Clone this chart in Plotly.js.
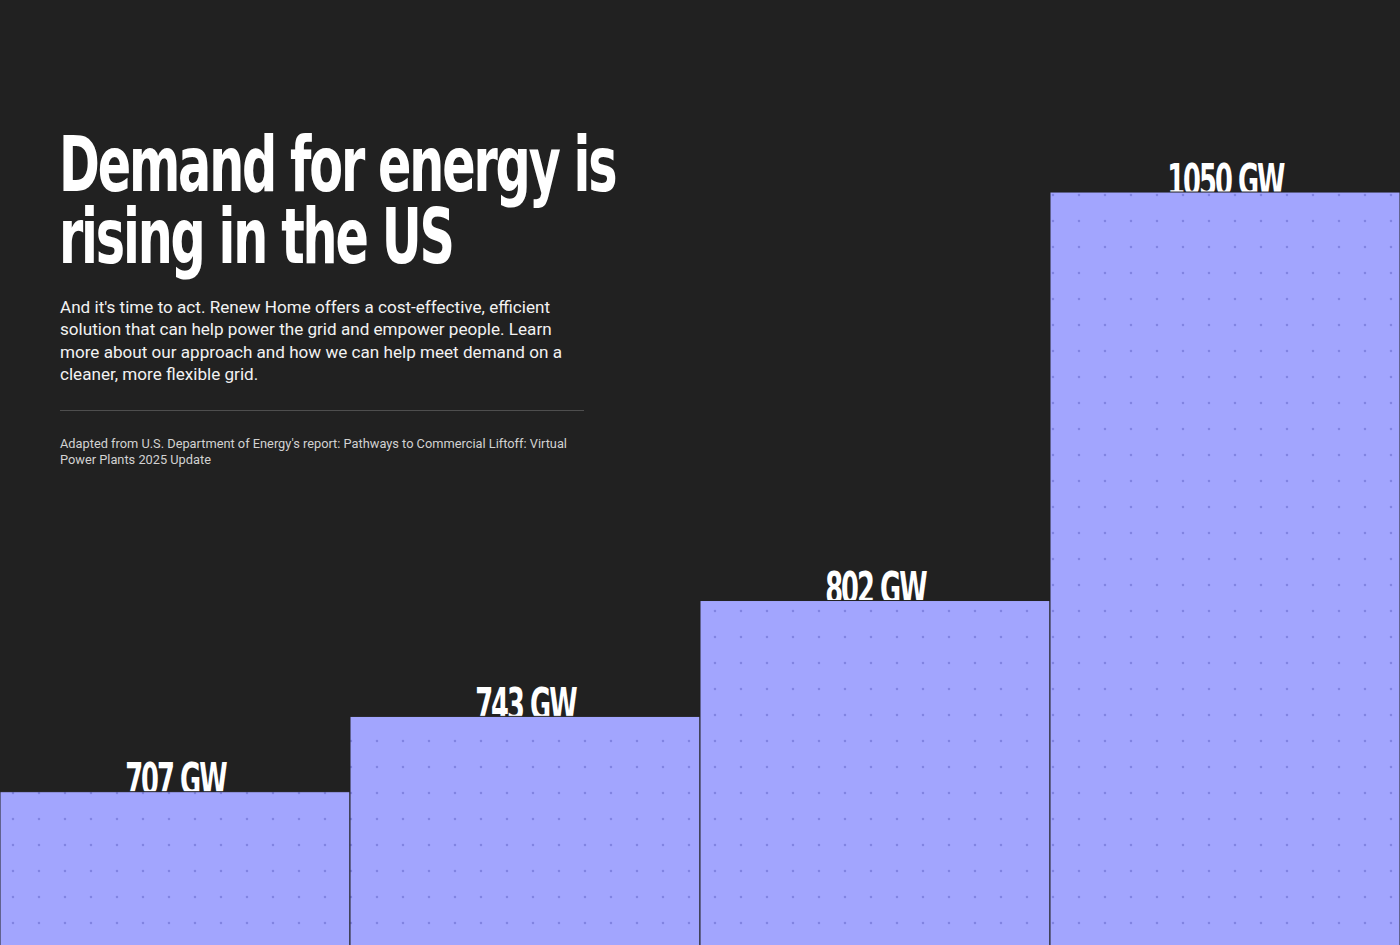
<!DOCTYPE html>
<html>
<head>
<meta charset="utf-8">
<script src="https://cdn.plot.ly/plotly-3.0.1.min.js"></script>
<style>
  html, body { margin: 0; padding: 0; background: #212121; overflow: hidden; }
  #chart { width: 1400px; height: 945px; }
  #chart .textpoint text {
    letter-spacing: -3px;
    transform-box: fill-box; transform-origin: center; transform: scaleX(0.65);
  }
  #chart .annotation[data-index="0"] text,
  #chart .annotation[data-index="1"] text {
    letter-spacing: -3px;
    transform-box: fill-box; transform-origin: left center; transform: scaleX(0.72);
  }
</style>
</head>
<body>
<div id="chart"></div>
<script>
// ---- data ----
const categories = ['A', 'B', 'C', 'D'];
const demandGW = [707, 743, 802, 1050];
const valueLabels = ['707 GW', '743 GW', '802 GW', '1050 GW'];

const titleLines = ['Demand for energy is', 'rising in the US'];
const bodyLines = [
  "And it's time to act. Renew Home offers a cost-effective, efficient",
  "solution that can help power the grid and empower people. Learn",
  "more about our approach and how we can help meet demand on a",
  "cleaner, more flexible grid."
];
const sourceLines = [
  "Adapted from U.S. Department of Energy's report: Pathways to Commercial Liftoff: Virtual",
  "Power Plants 2025 Update"
];

// ---- styling / layout ----
const W = 1400, H = 945;
const BG = '#212121';
const BAR = '#a2a5fe';
const DOT = '#8184e2';
const CONDENSED = '"DejaVu Sans Condensed", "DejaVu Sans", sans-serif';
const BODY = 'Roboto, "Noto Sans", sans-serif';

const py = p => 1 - p / H;
const px = p => p / W;

const barRange = [2.8055, 3.0762];
const textShift = 0.00215;

const annotations = [];
const titleTops = [117.5, 190.5];
titleLines.forEach((t, i) => annotations.push({
  text: t, xref: 'paper', yref: 'paper', x: px(57), y: py(titleTops[i]),
  xanchor: 'left', yanchor: 'top', align: 'left', showarrow: false,
  font: { family: CONDENSED, size: 76, color: '#ffffff', weight: 700 }
}));
const bodyTops = [294.5, 317.0, 339.5, 362.0];
bodyLines.forEach((t, i) => annotations.push({
  text: t, xref: 'paper', yref: 'paper', x: px(58), y: py(bodyTops[i]),
  xanchor: 'left', yanchor: 'top', align: 'left', showarrow: false,
  font: { family: BODY, size: 17.1, color: '#f2f2f2' }
}));
const sourceTops = [434.2, 450.2];
sourceLines.forEach((t, i) => annotations.push({
  text: t, xref: 'paper', yref: 'paper', x: px(58), y: py(sourceTops[i]),
  xanchor: 'left', yanchor: 'top', align: 'left', showarrow: false,
  font: { family: BODY, size: 12.8, color: '#d2d2d2' }
}));

const traces = [
  {
    type: 'scatter', mode: 'text',
    x: categories, y: demandGW, text: valueLabels,
    textposition: 'middle center',
    textfont: { family: CONDENSED, size: 44, color: '#ffffff', weight: 700 },
    xaxis: 'x', yaxis: 'y', cliponaxis: false, hoverinfo: 'skip', showlegend: false
  },
  {
    type: 'bar',
    x: categories, y: demandGW,
    xaxis: 'x', yaxis: 'y2',
    marker: {
      color: BAR,
      line: { color: BG, width: 1 },
      pattern: { shape: '.', size: 26, solidity: 0.0075, fgcolor: DOT, bgcolor: BAR, fgopacity: 1 }
    },
    hoverinfo: 'skip', showlegend: false
  }
];

const layout = {
  width: W, height: H,
  margin: { l: 0, r: 0, t: 0, b: 0, pad: 0 },
  paper_bgcolor: BG, plot_bgcolor: BG,
  showlegend: false,
  bargap: 0,
  xaxis: { type: 'category', range: [-0.5, 3.5], visible: false, fixedrange: true },
  yaxis: { type: 'log', range: [barRange[0] - textShift, barRange[1] - textShift], visible: false, fixedrange: true },
  yaxis2: { type: 'log', range: barRange, overlaying: 'y', visible: false, fixedrange: true },
  annotations: annotations,
  shapes: [{
    type: 'line', xref: 'paper', yref: 'paper',
    x0: px(60), x1: px(584), y0: py(410.5), y1: py(410.5),
    line: { color: '#4e4e4e', width: 1 }
  }],
  hovermode: false
};

Plotly.newPlot('chart', traces, layout, { displayModeBar: false, staticPlot: true });
</script>
</body>
</html>
